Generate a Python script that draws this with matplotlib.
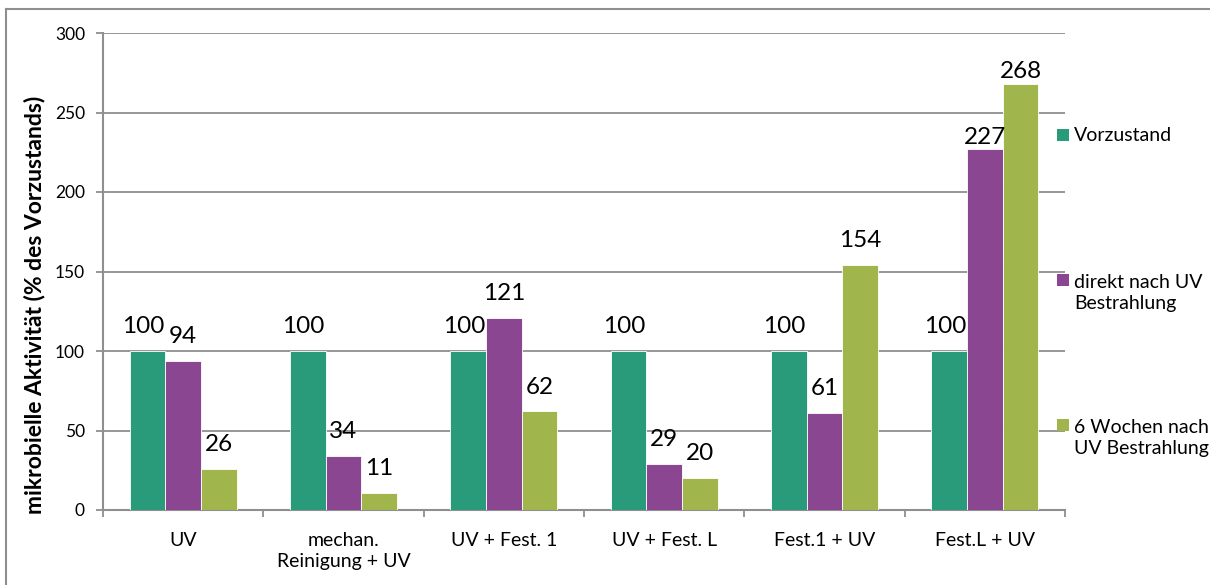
import matplotlib
matplotlib.use("Agg")
import matplotlib.pyplot as plt
from matplotlib.lines import Line2D
from matplotlib.patches import Rectangle
import numpy as np

plt.rcParams['font.family'] = ['Lato', 'DejaVu Sans']

categories = ["UV", "mechan.\nReinigung + UV", "UV + Fest. 1", "UV + Fest. L",
              "Fest.1 + UV", "Fest.L + UV"]
series_names = ["Vorzustand", "direkt nach UV\nBestrahlung", "6 Wochen nach\nUV Bestrahlung"]
vorzustand = [100, 100, 100, 100, 100, 100]
direkt_nach_uv = [94, 34, 121, 29, 61, 227]
sechs_wochen = [26, 11, 62, 20, 154, 268]
y_ticks = [0, 50, 100, 150, 200, 250, 300]
y_label = "mikrobielle Aktivität (% des Vorzustands)"

series = [vorzustand, direkt_nach_uv, sechs_wochen]
colors = ["#299b7b", "#8b4692", "#a1b54d"]
grey = "#8f8f8f"

W, H = 1210, 585
fig = plt.figure(figsize=(W / 100, H / 100), dpi=100)
ax = fig.add_axes([103 / W, 1 - 510 / H, (1065 - 103) / W, (510 - 33) / H])

x = np.arange(len(categories))
bw = 1 / 4.5
label_dx = [-3, 0, 0]
for i, (vals, col) in enumerate(zip(series, colors)):
    pos = x + (i - 1) * bw
    ax.bar(pos, vals, width=bw, color=col, edgecolor="white", linewidth=0.6, zorder=3)
    for p, v in zip(pos, vals):
        # tall bars keep their labels close to the bar top
        dy = 1 if v > 200 else 10
        ax.annotate(str(v), (p, v), xytext=(label_dx[i], dy), textcoords="offset points",
                    ha="center", va="bottom", fontsize=17.5, color="black", zorder=4)

ax.set_xlim(-0.5, len(categories) - 0.5)
ax.set_ylim(0, 300)
ax.set_yticks(y_ticks)
ax.set_yticklabels([str(t) for t in y_ticks], fontsize=12.5)
for t in y_ticks[1:]:
    ax.axhline(t, color=grey, linewidth=1.3, zorder=1)

ax.set_xticks(x)
ax.set_xticklabels(categories, fontsize=14, linespacing=1.3)
ax.set_xticks(np.arange(-0.5, len(categories)), minor=True)
ax.tick_params(axis="x", which="major", length=0, pad=16)
ax.tick_params(axis="x", which="minor", length=5, width=1.3, color=grey, direction="out")
ax.tick_params(axis="y", length=5, width=1.3, color=grey, direction="out", pad=8)

for side in ["top", "right"]:
    ax.spines[side].set_visible(False)
for side in ["left", "bottom"]:
    ax.spines[side].set_color(grey)
    ax.spines[side].set_linewidth(1.5)

fig.text(35 / W, 1 - 305 / H, y_label, rotation=90, ha="center", va="center",
         fontsize=16.5, fontweight="bold")

# legend drawn at the right of the plot area
legend_y = [135, 293, 438]
for name, col, ly in zip(series_names, colors, legend_y):
    n_lines = name.count("\n") + 1
    first_y = ly - (n_lines - 1) * 27 / 2
    fig.patches.append(Rectangle(((1057) / W, 1 - (first_y + 6) / H), 12 / W, 12 / H,
                                 transform=fig.transFigure, facecolor=col, edgecolor="none"))
    fig.text(1074 / W, 1 - ly / H, name, ha="left", va="center", fontsize=14,
             linespacing=1.35)

# outer frame (left and top edges)
fig.lines.append(Line2D([5.5 / W, 5.5 / W], [0, 1 - 8.5 / H], transform=fig.transFigure,
                        color=grey, linewidth=1.5))
fig.lines.append(Line2D([5.5 / W, 1], [1 - 8.5 / H, 1 - 8.5 / H], transform=fig.transFigure,
                        color=grey, linewidth=1.5))

fig.savefig("out.png", dpi=100, facecolor="white")
